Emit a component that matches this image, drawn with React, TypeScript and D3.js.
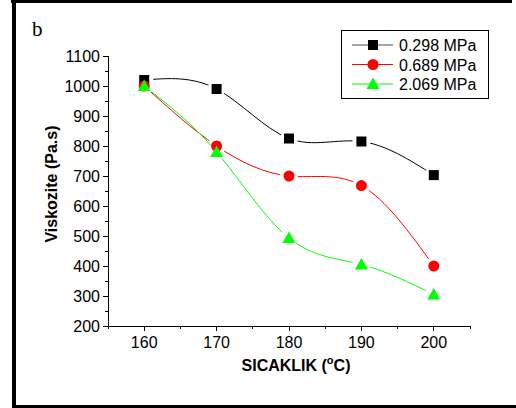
import React from "react";
import * as d3 from "d3";

const temps = [160, 170, 180, 190, 200];
const seriesNames = ["0.298 MPa", "0.689 MPa", "2.069 MPa"];
const s1 = [1020, 990, 825, 815, 703];
const s2 = [1000, 800, 700, 668, 400];
const s3 = [1000, 780, 493, 405, 305];
const xTicks = [160, 170, 180, 190, 200];
const yTicks = [200, 300, 400, 500, 600, 700, 800, 900, 1000, 1100];

const colors = ["#000000", "#ff0000", "#00ff00"];
const shapes = ["square", "circle", "triangle"];

export default function App() {
  const x = d3.scaleLinear().domain([155, 205]).range([108, 470]);
  const y = d3.scaleLinear().domain([200, 1100]).range([326, 56]);
  const data = [s1, s2, s3];
  const line = d3
    .line<[number, number]>()
    .x((d) => x(d[0]))
    .y((d) => y(d[1]))
    .curve(d3.curveNatural);

  const marker = (shape: string, cx: number, cy: number, color: string, key: any) => {
    if (shape === "square")
      return <rect key={key} x={cx - 5} y={cy - 5} width={10} height={10} fill={color} />;
    if (shape === "circle") return <circle key={key} cx={cx} cy={cy} r={5.5} fill={color} />;
    const s = 6.5;
    return (
      <path
        key={key}
        d={`M${cx},${cy - s}L${cx + s},${cy + s * 0.75}L${cx - s},${cy + s * 0.75}Z`}
        fill={color}
      />
    );
  };

  const xMinor = d3.range(155, 206, 5).filter((v) => v % 10 !== 0);
  const yMinor = d3.range(250, 1100, 100);
  const font = "Arial, 'Liberation Sans', sans-serif";

  return (
    <svg width={516} height={408} style={{ position: "absolute", left: 0, top: 0 }}>
      <rect x={0} y={0} width={516} height={408} fill="#fff" />
      {/* frame */}
      <rect x={11} y={0} width={501} height={3} fill="#000" />
      <rect x={12} y={0} width={4} height={408} fill="#000" />
      <rect x={12} y={405} width={504} height={3} fill="#000" />
      <text x={32} y={36} fontFamily="'Liberation Serif', 'DejaVu Serif', serif" fontSize={21}>
        b
      </text>

      <defs>
        {data.map((vals, si) => (
          <mask id={`m${si}`} key={si} maskUnits="userSpaceOnUse" x={0} y={0} width={516} height={408}>
            <rect x={0} y={0} width={516} height={408} fill="#fff" />
            {vals.map((v, i) => (
              <circle key={i} cx={x(temps[i])} cy={y(v)} r={9} fill="#000" />
            ))}
          </mask>
        ))}
      </defs>

      {/* axes */}
      <g stroke="#000" strokeWidth={1} shapeRendering="crispEdges">
        <line x1={108} y1={56} x2={108} y2={326} />
        <line x1={108} y1={326} x2={470} y2={326} />
        {yTicks.map((t) => (
          <line key={t} x1={103} x2={108} y1={y(t)} y2={y(t)} />
        ))}
        {yMinor.map((t) => (
          <line key={t} x1={105} x2={108} y1={y(t)} y2={y(t)} />
        ))}
        {xTicks.map((t) => (
          <line key={t} x1={x(t)} x2={x(t)} y1={326} y2={331} />
        ))}
        {xMinor.map((t) => (
          <line key={t} x1={x(t)} x2={x(t)} y1={326} y2={329} />
        ))}
      </g>
      <g fontFamily={font} fontSize={16} fill="#000">
        {yTicks.map((t) => (
          <text key={t} x={100} y={y(t) + 6} textAnchor="end">
            {t}
          </text>
        ))}
        {xTicks.map((t) => (
          <text key={t} x={x(t)} y={348} textAnchor="middle">
            {t}
          </text>
        ))}
      </g>
      <text
        transform="translate(57,184) rotate(-90)"
        textAnchor="middle"
        fontFamily={font}
        fontSize={16}
        fontWeight="bold"
      >
        Viskozite (Pa.s)
      </text>
      <text x={296} y={371} textAnchor="middle" fontFamily={font} fontSize={16} fontWeight="bold">
        SICAKLIK (
        <tspan fontSize={11} dy={-7}>o</tspan>
        <tspan dy={7}>C)</tspan>
      </text>

      {/* series */}
      {data.map((vals, si) => (
        <path
          key={si}
          d={line(vals.map((v, i) => [temps[i], v] as [number, number])) || ""}
          fill="none"
          stroke={colors[si]}
          strokeWidth={1}
          mask={`url(#m${si})`}
        />
      ))}
      {data.map((vals, si) => (
        <g key={si}>{vals.map((v, i) => marker(shapes[si], x(temps[i]), y(v), colors[si], i))}</g>
      ))}

      {/* legend */}
      <rect x={341.5} y={30.5} width={147} height={68} fill="#fff" stroke="#000" strokeWidth={1} />
      {seriesNames.map((n, i) => {
        const ly = 45 + i * 19.5;
        return (
          <g key={n}>
            <line x1={352} x2={393} y1={ly} y2={ly} stroke={colors[i]} strokeWidth={1} opacity={i === 0 ? 0.7 : 1} />
            {marker(shapes[i], 373, ly, colors[i], "m")}
            <text x={399} y={ly + 6} fontFamily={font} fontSize={16}>
              {n}
            </text>
          </g>
        );
      })}
    </svg>
  );
}
